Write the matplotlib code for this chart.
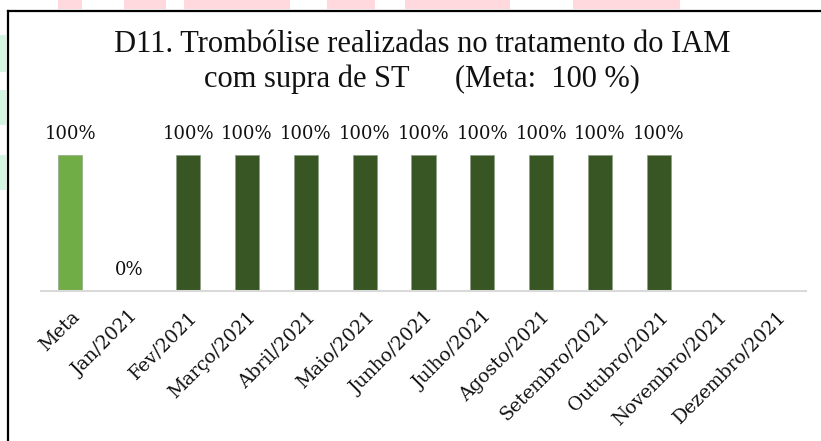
import matplotlib.pyplot as plt
from matplotlib.patches import Rectangle
from matplotlib.lines import Line2D

categorias = ["Meta", "Jan/2021", "Fev/2021", "Março/2021", "Abril/2021", "Maio/2021",
              "Junho/2021", "Julho/2021", "Agosto/2021", "Setembro/2021", "Outubro/2021",
              "Novembro/2021", "Dezembro/2021"]
valores = [1.0, 0.0, 1.0, 1.0, 1.0, 1.0, 1.0, 1.0, 1.0, 1.0, 1.0, None, None]
titulo = "D11. Trombólise realizadas no tratamento do IAM\ncom supra de ST      (Meta:  100 %)"

W, H = 821, 441
fig = plt.figure(figsize=(W / 100, H / 100), dpi=100)

# watermark scraps around the frame
for x0, x1 in [(58, 82), (124, 166), (184, 290), (327, 375), (405, 510), (573, 680)]:
    fig.patches.append(Rectangle((x0 / W, 1 - 9 / H), (x1 - x0) / W, 9 / H,
                                 transform=fig.transFigure, color="#FFD9DD", lw=0))
for y0, y1 in [(35, 72), (90, 125), (155, 190)]:
    fig.patches.append(Rectangle((0, 1 - y1 / H), 6 / W, (y1 - y0) / H,
                                 transform=fig.transFigure, color="#D5F5E3", lw=0))

# frame (top and left edges visible)
fig.add_artist(Line2D([7.5 / W, 1], [1 - 10.5 / H, 1 - 10.5 / H], color="black", lw=1.6,
                      transform=fig.transFigure))
fig.add_artist(Line2D([7.5 / W, 7.5 / W], [0, 1 - 10.5 / H], color="black", lw=1.6,
                      transform=fig.transFigure))

ymax = 1.2
bottom_px, top_px = 291, 291 - 136 * ymax
ax = fig.add_axes([41 / W, 1 - bottom_px / H, (806 - 41) / W, (bottom_px - top_px) / H])

x = list(range(len(categorias)))
cores = ["#70AD47"] + ["#375623"] * (len(categorias) - 1)
for i, v in enumerate(valores):
    if v is None:
        continue
    ax.bar(i, v, width=0.41, color=cores[i], edgecolor="#8a9a80", linewidth=0.4)
    ax.text(i, v + 0.09, f"{v * 100:.0f}%", ha="center", va="bottom",
            family="DejaVu Serif", fontsize=13, color="#111111")

ax.set_xlim(-0.5, len(categorias) - 0.5)
ax.set_ylim(0, ymax)
ax.set_yticks([])
for s in ["top", "right", "left"]:
    ax.spines[s].set_visible(False)
ax.spines["bottom"].set_color("#D9D9D9")
ax.spines["bottom"].set_linewidth(1.5)
ax.set_xticks(x)
ax.set_xticklabels(categorias, rotation=45, ha="right", rotation_mode="anchor",
                   family="DejaVu Serif", fontsize=13.5, color="#111111")
ax.tick_params(axis="x", length=0, pad=12)

fig.text(422 / W, 1 - 62 / H, titulo, ha="center", va="center", family="Liberation Serif",
         fontsize=22, linespacing=1.2, color="#111111")

fig.savefig("out.png", dpi=100)
